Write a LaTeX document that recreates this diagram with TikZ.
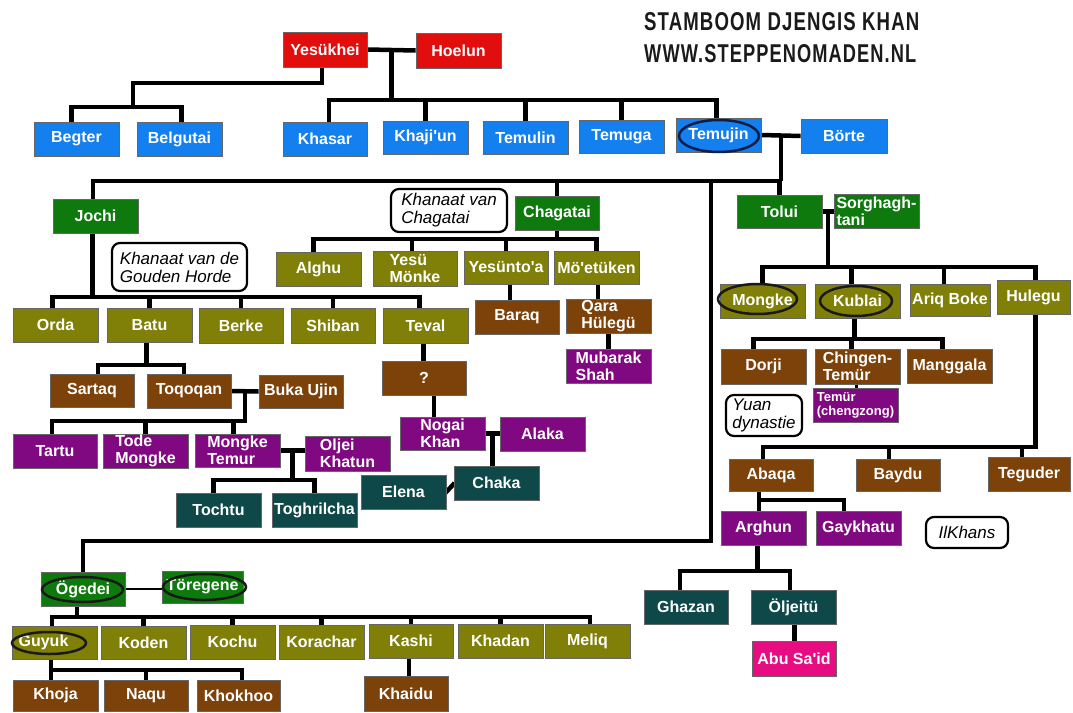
\documentclass[tikz,border=0pt]{standalone}
\usepackage{fontspec}
\usepackage{graphicx}
\setmainfont{Liberation Sans}[Ligatures=TeXOff]
\usetikzlibrary{calc}
\definecolor{cred}{RGB}{226,14,14}
\definecolor{cblue}{RGB}{20,128,240}
\definecolor{cgreen}{RGB}{14,122,14}
\definecolor{colive}{RGB}{128,128,8}
\definecolor{cbrown}{RGB}{124,66,10}
\definecolor{cpurple}{RGB}{128,8,128}
\definecolor{cteal}{RGB}{14,72,72}
\definecolor{cpink}{RGB}{232,12,130}
\definecolor{cnavy}{RGB}{16,30,70}
\definecolor{ctitle}{RGB}{26,26,26}
\pgfdeclarelayer{bg}
\pgfsetlayers{bg,main}
\tikzset{
  box/.style={draw=black!60, line width=0.8pt, inner sep=0pt, text=white,
    font=\fontsize{16}{17}\selectfont\bfseries, align=left},
  fr/.style={fill=cred}, fb/.style={fill=cblue}, fg/.style={fill=cgreen},
  fo/.style={fill=colive}, fbr/.style={fill=cbrown}, fp/.style={fill=cpurple},
  ft/.style={fill=cteal}, fpk/.style={fill=cpink},
  small/.style={font=\fontsize{13}{14}\selectfont\bfseries},
  conn/.style={draw=black, line width=4.5pt, line join=miter},
  lbl/.style={draw=black, line width=2.2pt, rounded corners=8pt, fill=white,
    inner sep=0pt, font=\fontsize{17}{18}\selectfont\itshape, align=left, text=black},
  ell/.style={draw=black!90, line width=2.5pt},
}
\newcommand\bx[7]{\node[box,#6,minimum width={(#4-#2)*1pt},minimum height={(#5-#3)*1pt}] (#1) at ({(#2+#4)/2},{(#3+#5)/2}) {#7};}
\newcommand\lb[6]{\node[lbl,minimum width={(#4-#2)*1pt},minimum height={(#5-#3)*1pt}] (#1) at ({(#2+#4)/2},{(#3+#5)/2}) {#6};}
\begin{document}
\begin{tikzpicture}[x=1pt,y=-1pt]
\useasboundingbox (0,0) rectangle (1073,712);

% title
\node[anchor=north west, inner sep=0pt, text=ctitle] (title1) at (644,12) {\resizebox{275pt}{18pt}{\addfontfeatures{LetterSpace=6}\bfseries STAMBOOM DJENGIS KHAN}};
\node[anchor=north west, inner sep=0pt, text=ctitle] (title2) at (644,44) {\resizebox{272pt}{18pt}{\addfontfeatures{LetterSpace=6}\bfseries WWW.STEPPENOMADEN.NL}};

% red
\bx{yes}{283}{32}{367}{67}{fr}{Yesükhei}
\bx{hoe}{416}{33}{501}{68}{fr}{Hoelun}
% blue
\bx{begter}{34}{122}{119}{156}{fb}{Begter}
\bx{belg}{137}{122}{222}{156}{fb}{Belgutai}
\bx{khasar}{283}{122}{367}{156}{fb}{Khasar}
\bx{khaji}{383}{121}{468}{154}{fb}{Khaji'un}
\bx{temulin}{483}{121}{568}{154}{fb}{Temulin}
\bx{temuga}{579}{120}{664}{153}{fb}{Temuga}
\bx{temujin}{676}{118}{761}{152}{fb}{Temujin}
\bx{borte}{801}{119}{887}{153}{fb}{Börte}
% green
\bx{jochi}{53}{199}{138}{233}{fg}{Jochi}
\bx{chag}{515}{196}{599}{230}{fg}{Chagatai}
\bx{tolui}{737}{195}{822}{228}{fg}{Tolui}
\bx{sorg}{834}{194}{919}{228}{fg}{Sorghagh-\\tani}
\bx{ogedei}{41}{572}{125}{606}{fg}{Ögedei}
\bx{toreg}{162}{571}{243}{603}{fg}{Töregene}
% olive
\bx{alghu}{276}{252}{361}{286}{fo}{Alghu}
\bx{yesum}{373}{251}{457}{286}{fo}{Yesü\\Mönke}
\bx{yesunt}{464}{251}{548}{284}{fo}{Yesünto'a}
\bx{moet}{554}{251}{639}{284}{fo}{Mö'etüken}
\bx{orda}{13}{308}{98}{342}{fo}{Orda}
\bx{batu}{107}{308}{192}{342}{fo}{Batu}
\bx{berke}{199}{308}{283}{343}{fo}{Berke}
\bx{shiban}{291}{308}{375}{343}{fo}{Shiban}
\bx{teval}{383}{308}{468}{343}{fo}{Teval}
\bx{mongke}{720}{284}{805}{318}{fo}{Mongke}
\bx{kublai}{815}{284}{900}{318}{fo}{Kublai}
\bx{ariq}{910}{284}{990}{316}{fo}{Ariq Boke}
\bx{hulegu}{997}{280}{1070}{314}{fo}{Hulegu}
\bx{guyuk}{12}{626}{97}{659}{fo}{Guyuk\hspace*{22pt}}
\bx{koden}{101}{626}{186}{659}{fo}{Koden}
\bx{kochu}{190}{625}{275}{659}{fo}{Kochu}
\bx{korachar}{279}{625}{364}{659}{fo}{Korachar}
\bx{kashi}{369}{624}{453}{658}{fo}{Kashi}
\bx{khadan}{458}{624}{543}{658}{fo}{Khadan}
\bx{meliq}{545}{624}{630}{658}{fo}{Meliq}
% brown
\bx{baraq}{475}{300}{559}{334}{fbr}{Baraq}
\bx{qara}{566}{299}{651}{333}{fbr}{Qara\\Hülegü}
\bx{sartaq}{50}{374}{134}{407}{fbr}{Sartaq}
\bx{toq}{147}{374}{231}{408}{fbr}{Toqoqan}
\bx{buka}{259}{375}{343}{408}{fbr}{Buka Ujin}
\bx{q}{382}{361}{466}{395}{fbr}{?}
\bx{dorji}{721}{349}{806}{384}{fbr}{Dorji}
\bx{chingen}{815}{349}{900}{384}{fbr}{Chingen-\\Temür}
\bx{mangg}{907}{349}{992}{383}{fbr}{Manggala}
\bx{abaqa}{729}{459}{813}{491}{fbr}{Abaqa}
\bx{baydu}{856}{459}{940}{491}{fbr}{Baydu}
\bx{teguder}{988}{457}{1070}{491}{fbr}{Teguder}
\bx{khaidu}{364}{676}{448}{711}{fbr}{Khaidu}
\bx{khoja}{13}{680}{98}{711}{fbr}{Khoja}
\bx{naqu}{104}{680}{188}{711}{fbr}{Naqu}
\bx{khokhoo}{197}{680}{280}{711}{fbr}{Khokhoo}
% purple
\bx{mubarak}{566}{349}{651}{383}{fp}{Mubarak\\Shah}
\bx{tartu}{13}{434}{97}{468}{fp}{Tartu}
\bx{tode}{103}{434}{188}{468}{fp}{Tode\\Mongke}
\bx{mtem}{195}{434}{280}{467}{fp}{Mongke\\Temur}
\bx{oljei}{305}{436}{390}{471}{fp}{Oljei\\Khatun}
\bx{nogai}{400}{417}{485}{450}{fp}{Nogai\\Khan}
\bx{alaka}{500}{417}{585}{451}{fp}{Alaka}
\bx{temur}{813}{388}{898}{422}{fp,small}{Temür\\(chengzong)}
\bx{arghun}{721}{511}{806}{545}{fp}{Arghun}
\bx{gayk}{816}{511}{901}{545}{fp}{Gaykhatu}
% teal
\bx{tochtu}{176}{493}{261}{527}{ft}{Tochtu}
\bx{toghril}{272}{493}{357}{527}{ft}{Toghrilcha}
\bx{elena}{361}{475}{446}{509}{ft}{Elena}
\bx{chaka}{454}{466}{539}{500}{ft}{Chaka}
\bx{ghazan}{644}{590}{728}{624}{ft}{Ghazan}
\bx{oljeitu}{751}{590}{836}{624}{ft}{Öljeitü}
% pink
\bx{abusaid}{752}{641}{836}{676}{fpk}{Abu Sa'id}

% labels
\lb{lchag}{391}{189}{507}{232}{Khanaat van\\Chagatai}
\lb{lgold}{112}{243}{247}{291}{Khanaat van de\\Gouden Horde}
\lb{lyuan}{726}{395}{802}{436}{Yuan\\dynastie}
\lb{lilk}{926}{517}{1008}{548}{IlKhans}

% ellipses
\draw[ell, draw=cnavy] (719,136) ellipse [x radius=40pt, y radius=16pt];
\draw[ell] (757.5,299) ellipse [x radius=39.5pt, y radius=15pt];
\draw[ell] (856,301) ellipse [x radius=36pt, y radius=15pt];
\draw[ell] (82.5,589.5) ellipse [x radius=40.5pt, y radius=12.5pt];
\draw[ell] (204.5,587) ellipse [x radius=41.5pt, y radius=13pt];
\draw[ell] (49,643) ellipse [x radius=37pt, y radius=11pt];

\begin{pgfonlayer}{bg}
\fill[white] (0,0) rectangle (1073,712);
% Yesukhei & Hoelun
\draw[conn] (yes.east) -- (hoe.west);
\coordinate (m1) at ($(yes.east)!0.5!(hoe.west)$);
\draw[conn] (m1) -- (m1 |- 0,100);
\draw[conn] ([xshift=4pt]khasar.north) -- ([xshift=4pt]khasar.north |- 0,100) -- ([xshift=-2pt]temujin.north |- 0,100) -- ([xshift=-2pt]temujin.north);
\foreach \n in {khaji,temulin,temuga} \draw[conn] (\n.north) -- (\n.north |- 0,100);
\coordinate (yb) at (133,107);
\draw[conn] ([xshift=-3pt]yes.south) |- (133,83) -- (yb);
\draw[conn] ([xshift=-5pt]begter.north) |- ([xshift=2pt]belg.north |- 0,107) -- ([xshift=2pt]belg.north);
% Temujin & Borte
\draw[conn] (temujin.east) -- (borte.west);
\coordinate (m2) at ($(temujin.east)!0.5!(borte.west)$);
\draw[conn] (m2) -- (m2 |- 0,181);
\draw[conn] ([xshift=-2.5pt]jochi.north) |- (tolui.north |- 0,181) -- (tolui.north);
\draw[conn] (chag.north) -- (chag.north |- 0,181);
\coordinate (og) at (711,181);
\draw[conn] (og) |- (ogedei.north |- 0,541) -- (ogedei.north);
% Jochi
\draw[conn] ([xshift=-3pt]jochi.south) -- ([xshift=-3pt]jochi.south |- 0,297);
\draw[conn] ([xshift=-3pt]orda.north) |- ([xshift=-6pt]teval.north |- 0,297) -- ([xshift=-6pt]teval.north);
\foreach \n in {batu,berke,shiban} \draw[conn] (\n.north) -- (\n.north |- 0,297);
\draw[conn] ([xshift=-3pt]batu.south) -- ([xshift=-3pt]batu.south |- 0,365);
\draw[conn] ([xshift=6pt]sartaq.north) |- ([xshift=-5pt]toq.north |- 0,365) -- ([xshift=-5pt]toq.north);
\draw[conn] (toq.east) -- (buka.west);
\coordinate (m3) at ($(toq.east)!0.5!(buka.west)$);
\draw[conn] (m3) |- ([xshift=-3pt]tartu.north |- 0,421) -- ([xshift=-3pt]tartu.north);
\draw[conn] (tode.north) -- (tode.north |- 0,421);
\draw[conn] ([xshift=-4pt]mtem.north) -- ([xshift=-4pt]mtem.north |- 0,421);
\draw[conn] (mtem.east) -- (mtem.east -| oljei.west);
\coordinate (m4) at ($(mtem.east)!0.5!(mtem.east -| oljei.west)$);
\draw[conn] (m4) -- (m4 |- 0,480);
\draw[conn] ([xshift=-5pt]tochtu.north) |- (toghril.north |- 0,480) -- (toghril.north);
\draw[conn] ([xshift=-2pt]teval.south) -- ([xshift=-2pt]teval.south |- q.north);
\draw[conn] ([xshift=10pt]q.south) -- ([xshift=10pt]q.south |- nogai.north);
\draw[conn] (nogai.east) -- (nogai.east -| alaka.west);
\coordinate (m5) at ($(nogai.east)!0.5!(nogai.east -| alaka.west)$);
\draw[conn] (m5) -- (m5 |- chaka.north);
\draw[conn] ([xshift=-2pt,yshift=-2pt]elena.east) -- ([xshift=1pt]chaka.west);
% Chagatai
\draw[conn] (chag.south) -- (chag.south |- 0,239);
\draw[conn] ([xshift=-5pt]alghu.north) |- (moet.north |- 0,239) -- (moet.north);
\draw[conn] ([xshift=-3pt]yesum.north) -- ([xshift=-3pt]yesum.north |- 0,239);
\draw[conn] (yesunt.north) -- (yesunt.north |- 0,239);
\draw[conn] ([xshift=4pt]yesunt.south) -- ([xshift=4pt]yesunt.south |- baraq.north);
\draw[conn] ([xshift=1.5pt]moet.south) -- ([xshift=1.5pt]moet.south |- qara.north);
\draw[conn] (qara.south) -- (mubarak.north);
% Tolui
\draw[conn] (tolui.east) -- (tolui.east -| sorg.west);
\coordinate (m6) at ($(tolui.east)!0.5!(tolui.east -| sorg.west)$);
\draw[conn] (m6) -- (m6 |- 0,267);
\draw[conn] (mongke.north) |- ([xshift=2pt]hulegu.north |- 0,267) -- ([xshift=2pt]hulegu.north);
\draw[conn] ([xshift=-6pt]kublai.north) -- ([xshift=-6pt]kublai.north |- 0,267);
\draw[conn] ([xshift=-6pt]ariq.north) -- ([xshift=-6pt]ariq.north |- 0,267);
\draw[conn] ([xshift=-3pt]kublai.south) -- ([xshift=-3pt]kublai.south |- 0,339);
\draw[conn] ([xshift=-10pt]dorji.north) |- ([xshift=-7pt]mangg.north |- 0,339) -- ([xshift=-7pt]mangg.north);
\draw[conn] ([xshift=-6pt]chingen.north) -- ([xshift=-6pt]chingen.north |- 0,339);
\draw[conn, line width=3pt] ([xshift=-1pt]chingen.south) -- ([xshift=-1pt]chingen.south |- temur.north);
\draw[conn] ([xshift=2pt]hulegu.south) |- ([xshift=-8pt]abaqa.north |- 0,447) -- ([xshift=-8pt]abaqa.north);
\draw[conn] ([xshift=-9pt]baydu.north) -- ([xshift=-9pt]baydu.north |- 0,447);
\draw[conn] ([xshift=-7pt]teguder.north) -- ([xshift=-7pt]teguder.north |- 0,447);
\draw[conn] ([xshift=-12pt]abaqa.south) -- ([xshift=-12pt]abaqa.south |- arghun.north);
\draw[conn] ([xshift=-12pt]abaqa.south |- 0,500) -| ([xshift=-14.5pt]gayk.north);
\draw[conn] ([xshift=-6pt]arghun.south) -- ([xshift=-6pt]arghun.south |- 0,571);
\draw[conn] ([xshift=-6pt]ghazan.north) |- ([xshift=-3.5pt]oljeitu.north |- 0,571) -- ([xshift=-3.5pt]oljeitu.north);
\draw[conn] ([xshift=1pt]oljeitu.south) -- ([xshift=1pt]oljeitu.south |- abusaid.north);
% Ogedei
\draw[conn, line width=2.5pt] (ogedei.east) -- (ogedei.east -| toreg.west);
\draw[conn] ([xshift=-6pt]ogedei.south) -- ([xshift=-6pt]ogedei.south |- 0,617);
\draw[conn] ([xshift=-2.5pt]guyuk.north) |- ([xshift=2.5pt]meliq.north |- 0,617) -- ([xshift=2.5pt]meliq.north);
\foreach \n in {koden,kochu,korachar,kashi,khadan} \draw[conn] (\n.north) -- (\n.north |- 0,617);
\draw[conn] ([xshift=-2pt]kashi.south) -- ([xshift=-2pt]kashi.south |- khaidu.north);
\draw[conn] ([xshift=-3.5pt]guyuk.south) -- ([xshift=-3.5pt]guyuk.south |- 0,670);
\draw[conn] ([xshift=-4.5pt]khoja.north) |- ([xshift=3.5pt]khokhoo.north |- 0,670) -- ([xshift=3.5pt]khokhoo.north);
\draw[conn] (naqu.north) -- (naqu.north |- 0,670);
\end{pgfonlayer}
\end{tikzpicture}
\end{document}
